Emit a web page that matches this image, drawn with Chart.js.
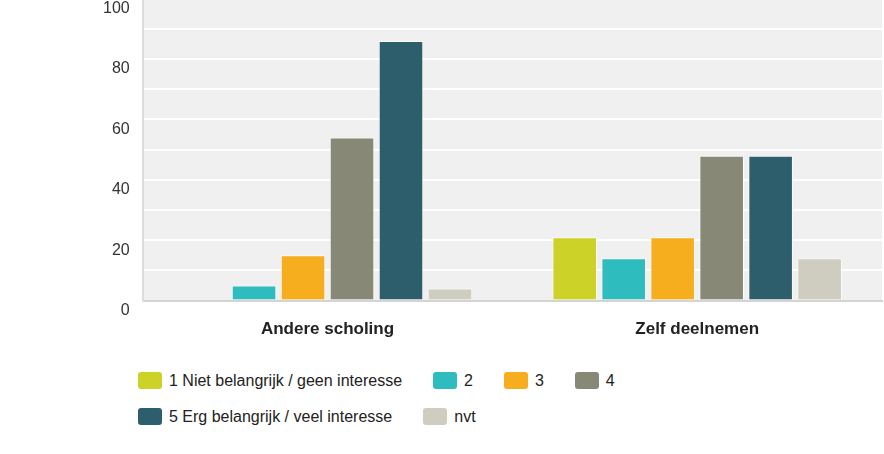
<!DOCTYPE html>
<html>
<head>
<meta charset="utf-8">
<script src="https://cdn.jsdelivr.net/npm/chart.js@4/dist/chart.umd.min.js"></script>
<style>
    body { margin: 0; background: #fff; font-family: "Liberation Sans", Arial, sans-serif; }
    #wrap { position: relative; width: 884px; height: 454px; overflow: hidden; }
    #box { position: absolute; left: 0; top: -24px; width: 884px; height: 383px; }
    #legend { position: absolute; left: 138px; top: 372px; width: 746px; display: flex; flex-wrap: wrap; row-gap: 19px; column-gap: 31px; }
    .item { display: flex; align-items: center; height: 17px; font-size: 16px; color: #222; white-space: nowrap; }
    .swatch { width: 24px; height: 17px; border-radius: 3px; margin-right: 7px; }
</style>
</head>
<body>
<div id="wrap">
    <div id="box"><canvas id="surveyChart"></canvas></div>
    <div id="legend"></div>
</div>
<script>
const categories = ['Andere scholing', 'Zelf deelnemen'];
const seriesNames = ['1 Niet belangrijk / geen interesse', '2', '3', '4', '5 Erg belangrijk / veel interesse', 'nvt'];
const score1 = [0, 21];
const score2 = [5, 14];
const score3 = [15, 21];
const score4 = [54, 48];
const score5 = [86, 48];
const scoreNvt = [4, 14];
const yTicks = [0, 20, 40, 60, 80, 100];

const colors = ['#cdd229', '#2fbcbf', '#f6ae1e', '#878876', '#2d5e6b', '#cfcdbf'];
const values = [score1, score2, score3, score4, score5, scoreNvt];

// plot background behind the grid
const plotBg = {
    id: 'plotBg',
    beforeDraw(chart) {
        const { ctx, chartArea: a } = chart;
        ctx.save();
        ctx.fillStyle = '#f0f0f0';
        ctx.fillRect(a.left, a.top, a.right - a.left, a.bottom - a.top);
        ctx.restore();
    }
};

const ctx = document.getElementById('surveyChart').getContext('2d');
const chart = new Chart(ctx, {
    type: 'bar',
    data: {
        labels: categories,
        datasets: seriesNames.map((name, i) => ({
            label: name,
            data: values[i],
            backgroundColor: colors[i],
            borderColor: 'rgba(255,255,255,0.7)',
            borderWidth: 1,
            categoryPercentage: 0.795,
            barPercentage: 0.91
        }))
    },
    options: {
        responsive: true,
        maintainAspectRatio: false,
        animation: false,
        layout: { padding: { left: 90, right: 2, top: 0, bottom: 0 } },
        plugins: {
            legend: { display: false },
            tooltip: { enabled: false }
        },
        scales: {
            x: {
                grid: { display: false, drawTicks: false },
                border: { color: '#d4d4d4', width: 2 },
                ticks: {
                    padding: 19,
                    color: '#222',
                    font: { family: '"Liberation Sans", Arial, sans-serif', size: 17, weight: 'bold' }
                }
            },
            y: {
                min: 0,
                max: 100,
                afterBuildTicks(axis) {
                    axis.ticks = [];
                    for (let v = 0; v <= 100; v += 10) axis.ticks.push({ value: v });
                },
                grid: { color: '#ffffff', lineWidth: 2, drawTicks: false },
                border: { color: '#dcdcdc', width: 2 },
                ticks: {
                    padding: 13,
                    labelOffset: 10,
                    color: '#333',
                    font: { family: '"Liberation Sans", Arial, sans-serif', size: 16 },
                    callback: v => yTicks.includes(v) ? v : ''
                }
            }
        }
    },
    plugins: [plotBg]
});

// legend built from the chart's datasets
const legend = document.getElementById('legend');
chart.data.datasets.forEach(ds => {
    const item = document.createElement('div');
    item.className = 'item';
    const sw = document.createElement('span');
    sw.className = 'swatch';
    sw.style.background = ds.backgroundColor;
    item.appendChild(sw);
    item.appendChild(document.createTextNode(ds.label));
    legend.appendChild(item);
});
</script>
</body>
</html>
